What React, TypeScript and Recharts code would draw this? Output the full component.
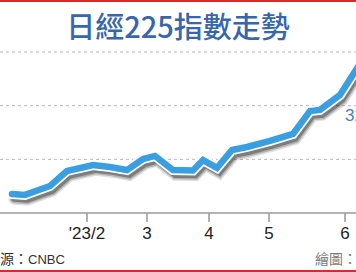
import { LineChart, Line, XAxis, YAxis, CartesianGrid, LabelList } from 'recharts';

// x = days from mid-Dec 2022, y = Nikkei 225 close
const days = [6, 12.5, 25, 33.5, 46.5, 55, 63.5, 71.5, 77.5, 86.5, 96.5, 101.5, 108.5, 116, 123.5, 135, 146.5, 155, 160, 170, 178, 182];
const closes = [25060, 25010, 25510, 26350, 26680, 26570, 26400, 27020, 27190, 26400, 26380, 26960, 26520, 27520, 27690, 28030, 28420, 29700, 29760, 30600, 32000, 32660];
const monthTicks = [43.5, 73.5, 104.5, 134.5, 172.5];
const monthLabels = ["'23/2", '3', '4', '5', '6'];
const gridValues = [27000, 30000, 33000];

const data = days.map((day, i) => ({ day, close: closes[i] }));

const LINE_BLUE = '#3a9fe0';
// soft drop shadow: same series on shifted hidden axes, stacked translucent strokes
const shadowLayers = [
  { width: 12, opacity: 0.12 },
  { width: 9, opacity: 0.2 },
  { width: 6, opacity: 0.3 }
];

function LastValueLabel(props: any) {
  const { x, y, value, index } = props;
  if (index !== closes.length - 1) return null;
  return (
    <text x={x - 19} y={y + 63} fill="#3d86cc" fontSize={17} fontFamily="Liberation Sans, Arial, sans-serif">
      {Number(value).toLocaleString('en-US')}
    </text>
  );
}

export default function App() {
  return (
    <div
      style={{
        position: 'relative',
        width: 356,
        height: 272,
        overflow: 'hidden',
        background: '#fff',
        fontFamily: '"Noto Sans CJK TC", sans-serif'
      }}
    >
      <style>{'body{margin:0}'}</style>
      <div style={{ position: 'absolute', top: 0, left: 0, width: 356, height: 2, background: '#e0262a' }} />
      <div
        style={{
          position: 'absolute',
          top: 9,
          left: 0,
          width: 356,
          textAlign: 'center',
          fontSize: 29,
          lineHeight: '32px',
          fontWeight: 500,
          color: '#3866ad'
        }}
      >
        日經225指數走勢
      </div>

      <div style={{ position: 'absolute', top: 0, left: 0 }}>
        <LineChart width={356} height={272} data={data} margin={{ top: 52, right: 0, bottom: 29, left: 0 }}>
          <CartesianGrid
            vertical={false}
            horizontalValues={gridValues}
            stroke="#b8b8b8"
            strokeDasharray="3 3"
          />
          <XAxis
            dataKey="day"
            type="number"
            domain={[0, 178]}
            allowDataOverflow
            ticks={monthTicks}
            interval={0}
            height={30}
            tickSize={9}
            tickMargin={5}
            tickFormatter={(v: number) => monthLabels[monthTicks.indexOf(v)]}
            axisLine={{ stroke: '#9a9a9a', strokeWidth: 1.5 }}
            tickLine={{ stroke: '#9a9a9a', strokeWidth: 1.5 }}
            tick={{ fontSize: 17, fill: '#222', fontFamily: 'Liberation Sans, Arial, sans-serif' }}
          />
          <XAxis xAxisId="shadow" dataKey="day" type="number" domain={[-1.2, 176.8]} allowDataOverflow hide />
          <YAxis hide domain={[24000, 33000]} ticks={gridValues} />
          <YAxis yAxisId="shadow" hide domain={[24270, 33270]} allowDataOverflow />
          {shadowLayers.map((s, i) => (
            <Line
              key={i}
              xAxisId="shadow"
              yAxisId="shadow"
              type="linear"
              dataKey="close"
              stroke="#000"
              strokeOpacity={s.opacity}
              strokeWidth={s.width}
              strokeLinecap="round"
              dot={false}
              activeDot={false}
              isAnimationActive={false}
            />
          ))}
          <Line
            type="linear"
            dataKey="close"
            stroke="#fff"
            strokeWidth={10}
            strokeLinecap="round"
            dot={false}
            activeDot={false}
            isAnimationActive={false}
          />
          <Line
            type="linear"
            dataKey="close"
            stroke={LINE_BLUE}
            strokeWidth={6.5}
            strokeLinecap="round"
            dot={false}
            activeDot={false}
            isAnimationActive={false}
          >
            <LabelList dataKey="close" content={LastValueLabel} />
          </Line>
        </LineChart>
      </div>

      <div style={{ position: 'absolute', left: 0, top: 249, fontSize: 14, lineHeight: '18px', color: '#333', whiteSpace: 'nowrap' }}>
        源：<span style={{ fontFamily: '"Liberation Sans Narrow", "Liberation Sans", sans-serif', fontSize: 13 }}>CNBC</span>
      </div>
      <div style={{ position: 'absolute', left: 315, top: 249, fontSize: 14, lineHeight: '18px', color: '#7a7a7a', whiteSpace: 'nowrap' }}>
        繪圖：
      </div>
      <div style={{ position: 'absolute', bottom: 0, left: 0, width: 356, height: 2, background: '#e0262a' }} />
    </div>
  );
}
